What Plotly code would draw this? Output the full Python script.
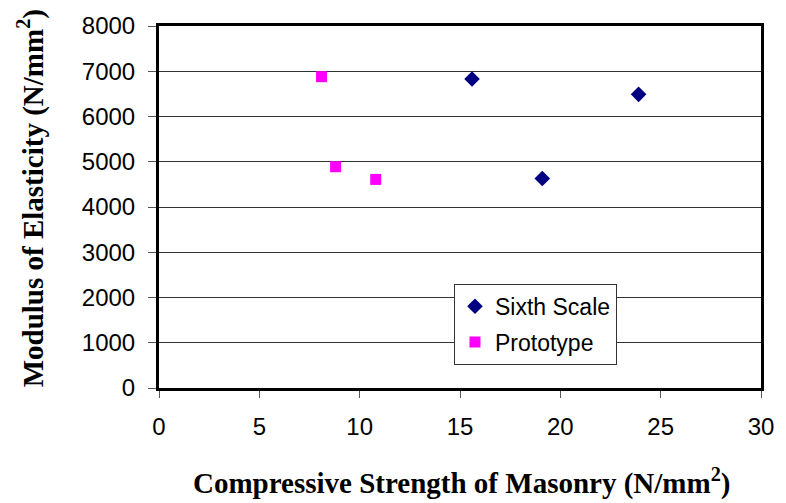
import plotly.graph_objects as go

sixth_x = [15.6, 19.1, 23.9]
sixth_y = [6830, 4630, 6490]
proto_x = [8.1, 8.8, 10.8]
proto_y = [6880, 4890, 4610]

fig = go.Figure()
fig.add_trace(go.Scatter(x=sixth_x, y=sixth_y, mode="markers", name="Sixth Scale",
                         legendgroup="a",
                         marker=dict(symbol="diamond", color="#000080", size=12)))
fig.add_trace(go.Scatter(x=proto_x, y=proto_y, mode="markers", name="Prototype",
                         legendgroup="b",
                         marker=dict(symbol="square", color="#FF00FF", size=11)))

tickfont = dict(family="Liberation Sans, Arial", size=24, color="black")
titlefont = dict(family="Liberation Serif, Times New Roman", size=29, color="black")
fig.update_layout(
    width=786, height=503,
    margin=dict(l=159, r=14, t=24, b=115),
    paper_bgcolor="white", plot_bgcolor="white",
    showlegend=True,
    legend=dict(x=0.49, y=0.288, xanchor="left", yanchor="top",
                bgcolor="white", bordercolor="#333333", borderwidth=1,
                font=dict(family="Liberation Sans, Arial", size=23, color="black"),
                traceorder="grouped", tracegroupgap=3),
    xaxis=dict(range=[0, 30], tickvals=[0, 5, 10, 15, 20, 25, 30],
               showgrid=False, zeroline=False,
               showline=True, linecolor="black", linewidth=3, mirror=True,
               ticks="outside", ticklen=7, tickcolor="#555555", tickwidth=1,
               ticklabelstandoff=8,
               tickfont=tickfont),
    yaxis=dict(range=[0, 8000], tickvals=[0, 1000, 2000, 3000, 4000, 5000, 6000, 7000, 8000],
               showgrid=True, gridcolor="#333333", gridwidth=1, zeroline=False,
               showline=True, linecolor="black", linewidth=3, mirror=True,
               ticks="outside", ticklen=8, tickcolor="#555555", tickwidth=1,
               ticklabelstandoff=8,
               tickfont=tickfont),
    annotations=[
        dict(text="<b>Compressive Strength of Masonry (N/mm<sup>2</sup>)</b>",
             xref="paper", yref="paper", x=0.502, y=-0.258,
             xanchor="center", yanchor="middle", showarrow=False, font=titlefont),
        dict(text="<b>Modulus of Elasticity (N/mm<sup>2</sup>)</b>",
             xref="paper", yref="paper", x=-0.212, y=0.525, textangle=-90,
             xanchor="center", yanchor="middle", showarrow=False, font=titlefont),
    ],
)
fig.write_html("out.html", config={"displayModeBar": False},
               post_script="document.body.style.margin='0';")
